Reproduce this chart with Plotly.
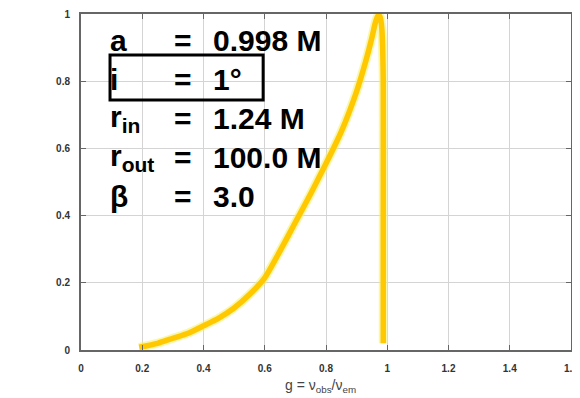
import plotly.graph_objects as go

g = [0.19, 0.25, 0.30, 0.35, 0.40, 0.45, 0.50, 0.55, 0.60, 0.65, 0.70, 0.75, 0.80,
     0.85, 0.90, 0.93, 0.95, 0.96, 0.967, 0.972, 0.977, 0.982, 0.985, 0.987, 0.987, 0.987]
F = [0.008, 0.02, 0.035, 0.05, 0.072, 0.095, 0.125, 0.165, 0.215, 0.295, 0.38, 0.465, 0.555,
     0.65, 0.77, 0.86, 0.93, 0.97, 0.99, 0.997, 0.99, 0.96, 0.90, 0.80, 0.40, 0.02]

x_ticks = [0, 0.2, 0.4, 0.6, 0.8, 1.0, 1.2, 1.4, 1.6]
x_labels = ["0", "0.2", "0.4", "0.6", "0.8", "1", "1.2", "1.4", "1.6"]
y_ticks = [0, 0.2, 0.4, 0.6, 0.8, 1.0]
y_labels = ["0", "0.2", "0.4", "0.6", "0.8", "1"]

param_names = ["a", "i", "r<sub>in</sub>", "r<sub>out</sub>", "β"]
param_values = ["0.998 M", "1°", "1.24 M", "100.0 M", "3.0"]

fig = go.Figure()
fig.add_trace(go.Scatter(x=g, y=F, mode="lines",
                         line=dict(color="rgba(240,240,110,0.55)", width=9, shape="spline", smoothing=0.6),
                         hoverinfo="skip", showlegend=False))
fig.add_trace(go.Scatter(x=g, y=F, mode="lines",
                         line=dict(color="#FFC800", width=5.5, shape="spline", smoothing=0.6),
                         showlegend=False))

FONT = "Liberation Sans, Arial, sans-serif"
font_big = dict(family=FONT, size=30, color="black")
for k, (nm, val) in enumerate(zip(param_names, param_values)):
    ypix = 40 + k * 39
    yd = (350 - ypix) / 336.0
    fig.add_annotation(x=(108 - 81) / 306.0, y=yd, xref="x", yref="y", text="<b>%s</b>" % nm,
                       showarrow=False, xanchor="left", yanchor="middle", font=font_big)
    fig.add_annotation(x=(172 - 81) / 306.0, y=yd, xref="x", yref="y", text="<b>=</b>",
                       showarrow=False, xanchor="left", yanchor="middle", font=font_big)
    fig.add_annotation(x=(211 - 81) / 306.0, y=yd, xref="x", yref="y", text="<b>%s</b>" % val,
                       showarrow=False, xanchor="left", yanchor="middle", font=font_big)

fig.add_shape(type="rect", xref="x", yref="y",
              x0=(110 - 81) / 306.0, x1=(263 - 81) / 306.0,
              y0=(350 - 100) / 336.0, y1=(350 - 55) / 336.0,
              line=dict(color="black", width=3), fillcolor="rgba(0,0,0,0)")

fig.add_annotation(x=-(81 - 32) / 306.0, y=(350 - 182) / 336.0, xref="x", yref="y",
                   text="F<sub>ν</sub>", textangle=-90, showarrow=False,
                   xanchor="center", yanchor="middle",
                   font=dict(family=FONT, size=13, color="#444444"))
fig.add_annotation(x=(283 - 81) / 306.0, y=0, xref="x", yref="paper", yshift=-25,
                   text="g = ν<sub>obs</sub>/ν<sub>em</sub>", showarrow=False,
                   xanchor="left", yanchor="top",
                   font=dict(family=FONT, size=14, color="#444444"))

axis_common = dict(showgrid=True, gridcolor="#d4d4d4", gridwidth=1, zeroline=False,
                   showline=True, linecolor="#666666", linewidth=2, mirror="ticks",
                   ticks="inside", ticklen=5, tickcolor="#666666", automargin=False,
                   tickfont=dict(family=FONT, size=10, color="#333333", weight="bold"))

fig.update_xaxes(range=[0, 1.6], tickvals=x_ticks, ticktext=x_labels, ticklabelstandoff=8,
                 **axis_common)
fig.update_yaxes(range=[0, 1], tickvals=y_ticks, ticktext=y_labels, ticklabelstandoff=7,
                 **axis_common)

# page body has an 8px default margin; size the figure so the plot lands where the reference has it
fig.update_layout(width=572, height=390, margin=dict(l=73, r=9, t=6, b=48),
                  plot_bgcolor="white", paper_bgcolor="white", showlegend=False)

fig.write_html("out.html")
